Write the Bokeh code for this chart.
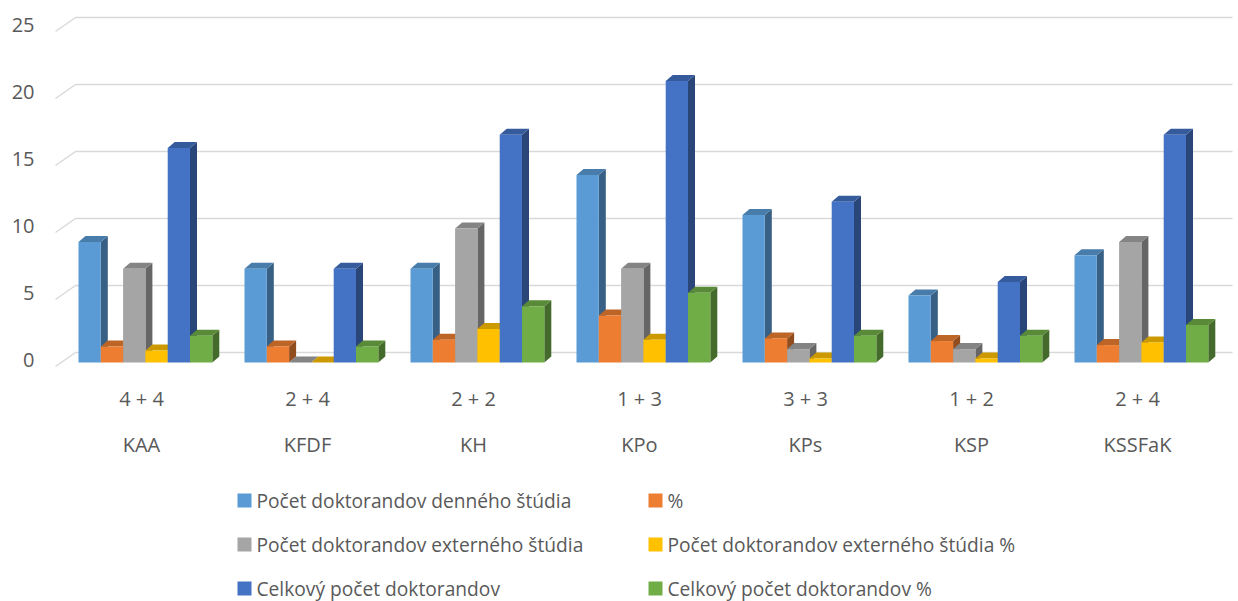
from bokeh.plotting import figure
from bokeh.embed import file_html
from bokeh.resources import INLINE
from bokeh.core.properties import value

categories = ["KAA", "KFDF", "KH", "KPo", "KPs", "KSP", "KSSFaK"]
sub_labels = ["4 + 4", "2 + 4", "2 + 2", "1 + 3", "3 + 3", "1 + 2", "2 + 4"]
series_names = [
    "Počet doktorandov denného štúdia",
    "%",
    "Počet doktorandov externého štúdia",
    "Počet doktorandov externého štúdia %",
    "Celkový počet doktorandov",
    "Celkový počet doktorandov %",
]
denne = [9, 7, 7, 14, 11, 5, 8]
denne_pct = [1.2, 1.2, 1.7, 3.5, 1.8, 1.6, 1.3]
externe = [7, 0, 10, 7, 1, 1, 9]
externe_pct = [0.9, 0.0, 2.5, 1.7, 0.3, 0.3, 1.5]
celkovy = [16, 7, 17, 21, 12, 6, 17]
celkovy_pct = [2.0, 1.2, 4.2, 5.2, 2.0, 2.0, 2.8]
series = [denne, denne_pct, externe, externe_pct, celkovy, celkovy_pct]
colors = ["#5B9BD5", "#ED7D31", "#A5A5A5", "#FFC000", "#4472C4", "#70AD47"]
y_ticks = [0, 5, 10, 15, 20, 25]

W, H = 1238, 601
ORG_X, ORG_Y = 0, 0
PXU_X = 166.0
PXU_Y = 13.4
# category i spans [i, i+1]; its label centre lies at page x 141 + 166 i
XS = -(141 - 83 - ORG_X) / PXU_X
XE = XS + W / PXU_X
YE = (362 - ORG_Y) / PXU_Y
YS = YE - H / PXU_Y


def X(px):
    return XS + (px - ORG_X) / PXU_X


def Y(py):
    return YE - (py - ORG_Y) / PXU_Y


def shade(hexc, f):
    r, g, b = int(hexc[1:3], 16), int(hexc[3:5], 16), int(hexc[5:7], 16)
    return "#%02x%02x%02x" % (int(r * f), int(g * f), int(b * f))


p = figure(width=W, height=H, x_range=(XS, XE), y_range=(YS, YE),
           output_backend="svg", toolbar_location=None, min_border=0)
p.axis.visible = False
p.grid.visible = False
p.outline_line_color = None
p.background_fill_color = "white"

FONT = value("Open Sans")
TXT = "#595959"
GRID = "#D9D9D9"

# 3D back-wall gridlines
back_off = 10 / PXU_Y
front_off = -4 / PXU_Y
for v in y_ticks:
    p.line([X(55), X(75), X(1232)], [v + front_off, v + back_off, v + back_off],
           line_color=GRID, line_width=1.5)

# y tick labels
p.text(x=[X(34)] * len(y_ticks), y=[v + 0.15 for v in y_ticks],
       text=[str(v) for v in y_ticks], text_align="right", text_baseline="middle",
       text_font=FONT, text_font_size="20px", text_color=TXT)

# bars with 3D faces
bw = 22.3 / PXU_X
dx = 7 / PXU_X
dy = 6 / PXU_Y
start = (78 - 58) / PXU_X
for j, (vals, col) in enumerate(zip(series, colors)):
    lefts = [i + start + j * bw for i in range(len(categories))]
    side_xs, side_ys, top_xs, top_ys = [], [], [], []
    for l, v in zip(lefts, vals):
        r = l + bw
        side_xs.append([r, r + dx, r + dx, r])
        side_ys.append([0, dy, v + dy, v])
        top_xs.append([l, r, r + dx, l + dx])
        top_ys.append([v, v, v + dy, v + dy])
    p.patches(side_xs, side_ys, fill_color=shade(col, 0.62), line_color=None)
    p.patches(top_xs, top_ys, fill_color=shade(col, 0.8), line_color=None)
    p.quad(left=lefts, right=[l + bw for l in lefts], bottom=0, top=vals,
           fill_color=col, line_color=None)

# category labels
centers = [i + 0.5 for i in range(len(categories))]
p.text(x=centers, y=[Y(398)] * len(centers), text=sub_labels, text_align="center",
       text_baseline="middle", text_font=FONT, text_font_size="20px", text_color=TXT)
p.text(x=centers, y=[Y(444)] * len(centers), text=categories, text_align="center",
       text_baseline="middle", text_font=FONT, text_font_size="20px", text_color=TXT)

# legend (two columns, three rows)
leg_x = [237, 648]
leg_y = [500, 544, 588]
for k, (name, col) in enumerate(zip(series_names, colors)):
    cx = leg_x[k % 2]
    cy = leg_y[k // 2]
    p.scatter([X(cx + 7)], [Y(cy)], marker="square", size=14, fill_color=col,
              line_color=None)
    p.text(x=[X(cx + 19)], y=[Y(cy)], text=[name], text_align="left",
           text_baseline="middle", text_font=FONT, text_font_size="19.2px",
           text_color=TXT)

open("out.html", "w").write(file_html(p, INLINE))
